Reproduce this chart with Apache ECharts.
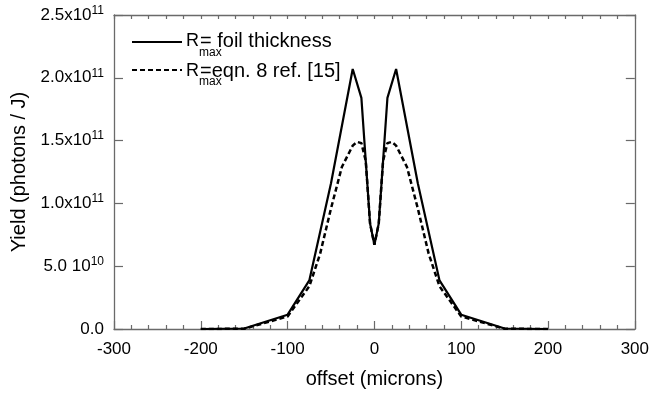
<!DOCTYPE html>
<html>
<head>
<meta charset="utf-8">
<script src="https://cdn.jsdelivr.net/npm/echarts@6/dist/echarts.min.js"></script>
<style>
html,body{margin:0;padding:0;background:#fff;}
#chart{width:652px;height:394px;}
</style>
</head>
<body>
<div id="chart"></div>
<script>
// ---- data ----
const solidX = [-200, -150, -100, -75, -50, -25, -15, -5, 0, 5, 15, 25, 50, 75, 100, 150, 200];
const solidY = [0, 4e8, 1.14e10, 3.87e10, 1.16e11, 2.07e11, 1.84e11, 8.4e10, 6.7e10, 8.4e10, 1.84e11, 2.07e11, 1.16e11, 3.87e10, 1.14e10, 4e8, 0];
const dashX = [-200, -150, -100, -87.5, -75, -62.5, -50, -37.5, -25, -20, -15, -10, -5, 0, 5, 10, 15, 20, 25, 37.5, 50, 62.5, 75, 87.5, 100, 150, 200];
const dashY = [0, 2e8, 1.0e10, 2.2e10, 3.4e10, 6.0e10, 9.6e10, 1.29e11, 1.46e11, 1.49e11, 1.48e11, 1.34e11, 8.4e10, 6.7e10, 8.4e10, 1.34e11, 1.48e11, 1.49e11, 1.46e11, 1.29e11, 9.6e10, 6.0e10, 3.4e10, 2.2e10, 1.0e10, 2e8, 0];
const yTickLabels = ['0.0', '5.0 10|10', '1.0x10|11', '1.5x10|11', '2.0x10|11', '2.5x10|11'];
const seriesNames = ['Rmax = foil thickness', 'Rmax =eqn. 8 ref. [15]'];

const FF = '"Liberation Sans", Arial, Helvetica, sans-serif';
const axisColor = '#6a6a6a';
const textColor = '#000';

const chart = echarts.init(document.getElementById('chart'), null, {renderer: 'canvas'});

const toPairs = (xs, ys) => xs.map((x, i) => [x, ys[i]]);

const option = {
  backgroundColor: '#fff',
  animation: false,
  grid: {left: 114, right: 14, top: 15, bottom: 65, containLabel: false},
  xAxis: [
    {
      type: 'value', min: -300, max: 300, interval: 100, position: 'bottom',
      name: 'offset (microns)', nameLocation: 'middle', nameGap: 40,
      nameTextStyle: {fontFamily: FF, fontSize: 20, color: textColor},
      axisLine: {show: true, onZero: false, lineStyle: {color: axisColor, width: 1.3}},
      axisTick: {show: true, inside: true, length: 8, lineStyle: {color: axisColor, width: 1.2}},
      minorTick: {show: true, splitNumber: 5, length: 4, lineStyle: {color: axisColor, width: 1.2}},
      splitLine: {show: false},
      axisLabel: {fontFamily: FF, fontSize: 17, color: textColor, margin: 12}
    },
    {
      type: 'value', min: -300, max: 300, interval: 20, position: 'top',
      axisLine: {show: true, onZero: false, lineStyle: {color: axisColor, width: 1.3}},
      axisTick: {show: true, inside: true, length: 4, lineStyle: {color: axisColor, width: 1.2}},
      splitLine: {show: false},
      axisLabel: {show: false}
    }
  ],
  yAxis: [
    {
      type: 'value', min: 0, max: 2.5e11, interval: 5e10, position: 'left',
      name: 'Yield (photons / J)', nameLocation: 'middle', nameGap: 82,
      nameTextStyle: {fontFamily: FF, fontSize: 20, color: textColor},
      axisLine: {show: true, onZero: false, lineStyle: {color: axisColor, width: 1.3}},
      axisTick: {show: true, inside: true, length: 9, lineStyle: {color: axisColor, width: 1.2}},
      splitLine: {show: false},
      axisLabel: {
        margin: 10,
        formatter: function (v) {
          const idx = Math.round(v / 5e10);
          const t = yTickLabels[idx] || '';
          const parts = t.split('|');
          if (parts.length === 1) return '{b|' + parts[0] + '}';
          return '{b|' + parts[0] + '}{s|' + parts[1] + '}';
        },
        rich: {
          b: {fontFamily: FF, fontSize: 17, color: textColor, lineHeight: 21},
          s: {fontFamily: FF, fontSize: 12, color: textColor, lineHeight: 12, verticalAlign: 'top'}
        }
      }
    },
    {
      type: 'value', min: 0, max: 2.5e11, interval: 5e10, position: 'right',
      axisLine: {show: true, onZero: false, lineStyle: {color: axisColor, width: 1.3}},
      axisTick: {show: true, inside: true, length: 9, lineStyle: {color: axisColor, width: 1.2}},
      splitLine: {show: false},
      axisLabel: {show: false}
    }
  ],
  legend: [
    {data: [seriesNames[0]], left: 131, top: 35, padding: 0, itemWidth: 50, itemHeight: 14, selectedMode: false,
     itemStyle: {opacity: 0}, formatter: function () { return ''; }, textStyle: {fontSize: 10}},
    {data: [seriesNames[1]], left: 131, top: 63, padding: 0, itemWidth: 50, itemHeight: 14, selectedMode: false,
     itemStyle: {opacity: 0}, formatter: function () { return ''; }, textStyle: {fontSize: 10}}
  ],
  graphic: [
    {type: 'text', x: 186, y: 41, style: {text: 'R', font: '18px ' + FF, fill: textColor, verticalAlign: 'middle', align: 'left'}},
    {type: 'text', x: 199, y: 52.7, style: {text: 'max', font: '12px ' + FF, fill: textColor, verticalAlign: 'middle', align: 'left'}},
    {type: 'text', x: 200, y: 41, style: {text: '= foil thickness', font: '20px ' + FF, fill: textColor, verticalAlign: 'middle', align: 'left'}},
    {type: 'text', x: 186, y: 71, style: {text: 'R', font: '18px ' + FF, fill: textColor, verticalAlign: 'middle', align: 'left'}},
    {type: 'text', x: 199, y: 81.7, style: {text: 'max', font: '12px ' + FF, fill: textColor, verticalAlign: 'middle', align: 'left'}},
    {type: 'text', x: 200, y: 71, style: {text: '=eqn. 8 ref. [15]', font: '20px ' + FF, fill: textColor, verticalAlign: 'middle', align: 'left'}}
  ],
  series: [
    {
      name: seriesNames[1], type: 'line', xAxisIndex: 0, yAxisIndex: 0,
      data: toPairs(dashX, dashY), symbol: 'none', smooth: false,
      lineStyle: {color: '#000', width: 2.5, type: [5, 3]},
      itemStyle: {color: '#000'}, z: 2
    },
    {
      name: seriesNames[0], type: 'line', xAxisIndex: 0, yAxisIndex: 0,
      data: toPairs(solidX, solidY), symbol: 'none', smooth: false,
      lineStyle: {color: '#000', width: 2.2, type: 'solid'},
      itemStyle: {color: '#000'}, z: 3
    }
  ]
};
chart.setOption(option);
</script>
</body>
</html>
